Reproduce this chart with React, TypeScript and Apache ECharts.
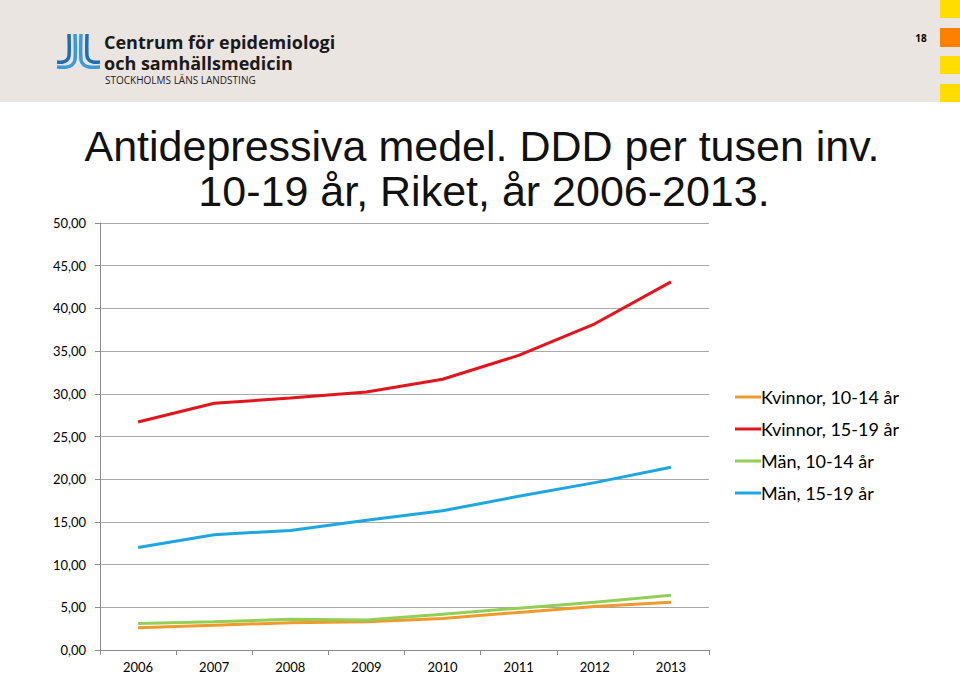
import React, { useEffect, useRef } from "react";
import * as echarts from "echarts";

const years = ["2006", "2007", "2008", "2009", "2010", "2011", "2012", "2013"];
const kvinnor1014 = [2.6, 2.9, 3.2, 3.3, 3.7, 4.4, 5.1, 5.6];
const kvinnor1519 = [26.7, 28.9, 29.5, 30.2, 31.7, 34.5, 38.2, 43.1];
const man1014 = [3.1, 3.3, 3.6, 3.5, 4.2, 4.9, 5.6, 6.4];
const man1519 = [12.0, 13.5, 14.0, 15.2, 16.3, 18.0, 19.6, 21.4];
const seriesNames = ["Kvinnor, 10-14 år", "Kvinnor, 15-19 år", "Män, 10-14 år", "Män, 15-19 år"];
const seriesColors = ["#ee9a2c", "#e2141c", "#92cf57", "#1ea6e0"];

export default function App() {
  const ref = useRef<HTMLDivElement>(null);
  useEffect(() => {
    if (!ref.current) return;
    const chart = echarts.init(ref.current, null, { renderer: "svg" });
    const data = [kvinnor1014, kvinnor1519, man1014, man1519];
    const font = "Lato, 'Open Sans', sans-serif";
    chart.setOption({
      animation: false,
      backgroundColor: "#ffffff",
      grid: { left: 100, right: 251, top: 223, bottom: 23, containLabel: false },
      xAxis: {
        type: "category",
        data: years,
        boundaryGap: true,
        axisLine: { show: true, lineStyle: { color: "#8c8c8c", width: 1 } },
        axisTick: { show: true, length: 5, lineStyle: { color: "#8c8c8c" } },
        axisLabel: { color: "#000", fontSize: 13, fontFamily: font, margin: 10 },
      },
      yAxis: {
        type: "value",
        min: 0,
        max: 50,
        interval: 5,
        axisLine: { show: true, lineStyle: { color: "#8c8c8c", width: 1 } },
        axisTick: { show: true, length: 5, lineStyle: { color: "#8c8c8c" } },
        axisLabel: {
          color: "#000",
          fontSize: 13,
          fontFamily: font,
          margin: 14,
          formatter: (v: number) => v.toFixed(2).replace(".", ","),
        },
        splitLine: { show: true, lineStyle: { color: "#a8a8a8", width: 1 } },
      },
      legend: {
        orient: "vertical",
        left: 730,
        top: 383,
        itemWidth: 26,
        itemHeight: 3,
        itemGap: 14,
        icon: "rect",
        textStyle: { fontSize: 18, fontFamily: font, color: "#000", padding: [0, 0, 0, -5] },
        data: seriesNames,
      },
      series: seriesNames.map((name, i) => ({
        name,
        type: "line",
        data: data[i],
        symbol: "none",
        lineStyle: { width: 3, color: seriesColors[i] },
        itemStyle: { color: seriesColors[i] },
      })),
      graphic: [
        { type: "rect", shape: { x: 0, y: 0, width: 960, height: 102 }, style: { fill: "#ebe5e2" }, silent: true },
        { type: "rect", shape: { x: 940, y: 0, width: 20, height: 18 }, style: { fill: "#ffdd00" } },
        { type: "rect", shape: { x: 940, y: 28, width: 20, height: 19 }, style: { fill: "#ff7f00" } },
        { type: "rect", shape: { x: 940, y: 56, width: 20, height: 18 }, style: { fill: "#ffdd00" } },
        { type: "rect", shape: { x: 940, y: 84, width: 20, height: 18 }, style: { fill: "#ffdd00" } },
        { type: "text", x: 921, y: 38, style: { text: "18", fill: "#000", font: "bold 10px 'Open Sans', sans-serif", textAlign: "center", textVerticalAlign: "middle" } },
        // logo icon
        { type: "polyline", shape: { points: [[69, 34], [69, 56], [67, 60], [63, 62], [57, 62]], smooth: 0.3 }, style: { stroke: "#1f6db3", lineWidth: 3.5, fill: "none" } },
        { type: "polyline", shape: { points: [[75, 34], [75, 60], [72, 65], [67, 67], [57, 67]], smooth: 0.3 }, style: { stroke: "#3b9ad8", lineWidth: 3.5, fill: "none" } },
        { type: "polyline", shape: { points: [[87, 34], [87, 56], [89, 60], [93, 62], [100, 62]], smooth: 0.3 }, style: { stroke: "#1f6db3", lineWidth: 3.5, fill: "none" } },
        { type: "polyline", shape: { points: [[81, 34], [81, 60], [84, 65], [89, 67], [100, 67]], smooth: 0.3 }, style: { stroke: "#3b9ad8", lineWidth: 3.5, fill: "none" } },
        { type: "text", x: 104, y: 42, style: { text: "Centrum för epidemiologi", fill: "#1a1a1a", font: "bold 18px 'Open Sans', sans-serif", lineHeight: 16, textVerticalAlign: "middle" } },
        { type: "text", x: 104, y: 63, style: { text: "och samhällsmedicin", fill: "#1a1a1a", font: "bold 18px 'Open Sans', sans-serif", lineHeight: 16, textVerticalAlign: "middle" } },
        { type: "text", x: 105, y: 80, style: { text: "STOCKHOLMS LÄNS LANDSTING", fill: "#1a1a1a", font: "10px 'Open Sans', sans-serif", lineHeight: 10, textVerticalAlign: "middle" } },
        // title
        { type: "text", x: 482, y: 146, style: { text: "Antidepressiva medel. DDD per tusen inv.", fill: "#111", font: "43px 'Liberation Sans', Arial, sans-serif", lineHeight: 40, textAlign: "center", textVerticalAlign: "middle" } },
        { type: "text", x: 484, y: 191, style: { text: "10-19 år, Riket, år 2006-2013.", fill: "#111", font: "43px 'Liberation Sans', Arial, sans-serif", lineHeight: 40, textAlign: "center", textVerticalAlign: "middle" } },
      ],
    });
    return () => chart.dispose();
  }, []);
  return (
    <div
      ref={ref}
      style={{ position: "fixed", left: 0, top: 0, width: 960, height: 673 }}
    />
  );
}
